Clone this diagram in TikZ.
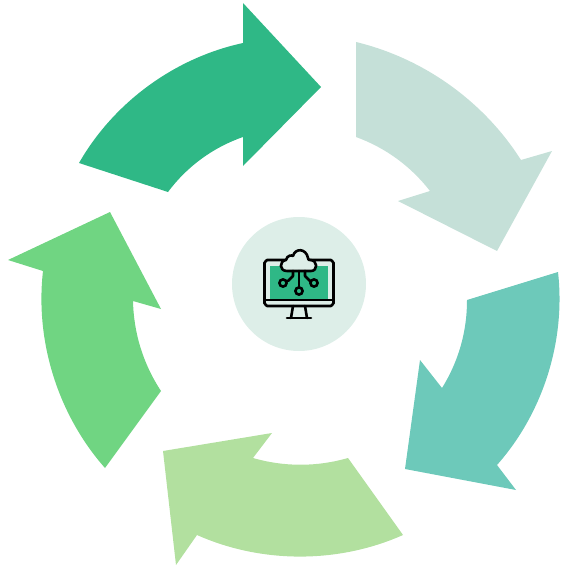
\documentclass[tikz,border=0pt]{standalone}
\definecolor{cA}{HTML}{2FB886}
\definecolor{cB}{HTML}{C5E0D8}
\definecolor{cC}{HTML}{6DC9BA}
\definecolor{cD}{HTML}{B2E09F}
\definecolor{cE}{HTML}{70D582}
\definecolor{hub}{HTML}{DDEEE8}
\tikzset{
  ic/.style={draw=black,line width=2.6pt,line cap=round,line join=round},
}
\begin{document}
\begin{tikzpicture}[x=1pt,y=-1pt]
\useasboundingbox (0,0) rectangle (560,567);
\fill[cA] (79,163) to[bend left=24,looseness=0.88] (243,43) -- (243,3) -- (321,87) -- (243,166) -- (243,137) to[bend right=17,looseness=0.88] (168,192) -- cycle;
\fill[cB] (356,42) to[bend left=22,looseness=0.88] (521,160) -- (552,151) -- (497,251) -- (398,201) -- (430,191) to[bend right=16,looseness=0.88] (356,137) -- cycle;
\fill[cC] (558,272) to[bend left=24,looseness=0.88] (497,465) -- (516,490) -- (405,469) -- (420,360) -- (442,388) to[bend right=16,looseness=0.88] (467,300) -- cycle;
\fill[cD] (403,535) to[bend left=24,looseness=0.88] (197,535) -- (176,565) -- (163,451) -- (272,433) -- (253,458) to[bend right=16,looseness=0.88] (348,458) -- cycle;
\fill[cE] (105,468) to[bend left=24,looseness=0.88] (43,271) -- (8,260) -- (110,212) -- (161,309) -- (133,301) to[bend right=16,looseness=0.88] (161,391) -- cycle;
\fill[hub] (299,284) circle (67);
% icon
\fill[cA] (270,266) rectangle (328,300);
\draw[ic] (267,260) -- (331,260) to[out=0,in=-90] (333.5,262.5) -- (333.5,303.5) to[out=90,in=0] (331,306) -- (267,306) to[out=180,in=90] (264.5,303.5) -- (264.5,262.5) to[out=-90,in=180] (267,260) -- cycle;
\draw[ic] (264.5,300) -- (333.5,300);
\draw[ic] (293,306) -- (291,318) (305,306) -- (307,318);
\draw[ic] (287,318) -- (311,318);
\draw[ic,fill=hub] (287,271) .. controls (279,271) and (279,261) .. (286,260)
  .. controls (287,255) and (292,255) .. (293,256)
  .. controls (295,248) and (306,248) .. (308,258)
  .. controls (308,260) and (309,260) .. (310,260)
  .. controls (318,260) and (318,271) .. (311,271) -- cycle;
\draw[ic] (293,271) -- (293,276) -- (288,281);
\draw[ic] (299,271) -- (299,287);
\draw[ic] (305,271) -- (305,276) -- (310,281);
\draw[ic] (283,283) circle (3.6);
\draw[ic] (314,283) circle (3.6);
\draw[ic] (299,291) circle (3.6);
\end{tikzpicture}
\end{document}
